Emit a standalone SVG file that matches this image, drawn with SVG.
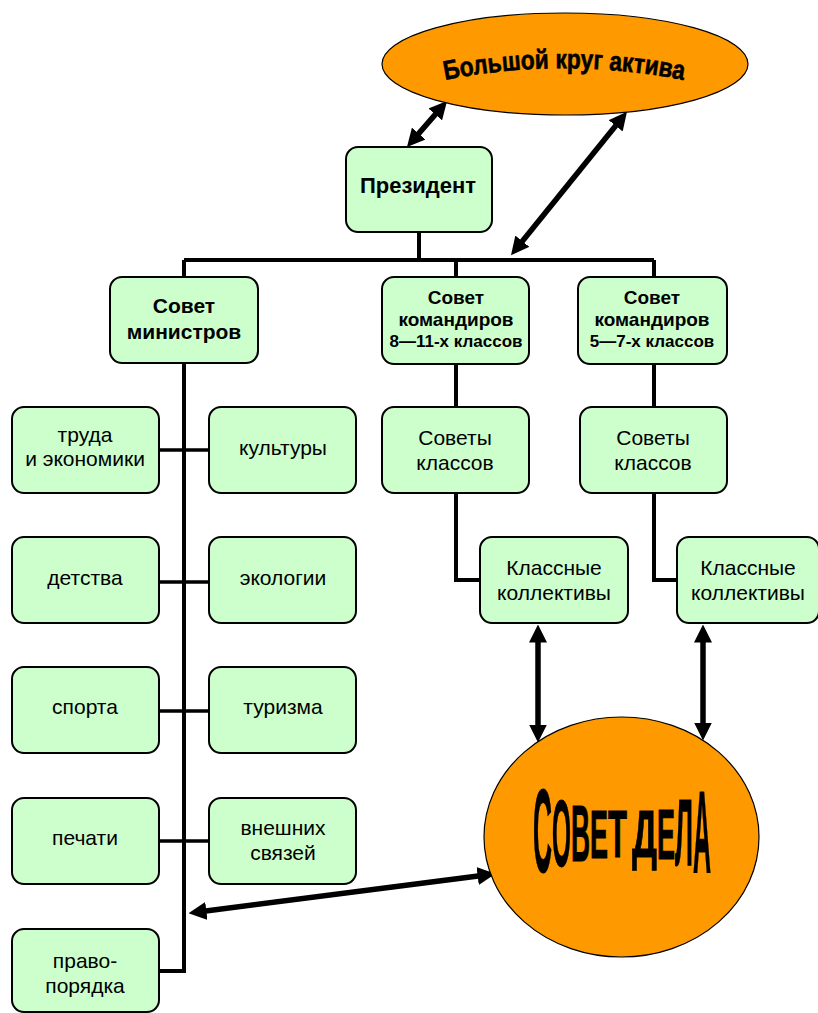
<svg xmlns="http://www.w3.org/2000/svg" width="818" height="1013" viewBox="0 0 818 1013">
<style>
.box{fill:#ccffcc;stroke:#000;stroke-width:2}
.oval{fill:#ff9900;stroke:#000;stroke-width:1.2}
.t{font-family:"Liberation Sans",Arial,sans-serif;font-size:21px;fill:#000;text-anchor:middle}
.b{font-weight:bold}
.p{font-size:22px}
.s{font-size:19px}
.xs{font-size:17px}
.ln{fill:none;stroke:#000;stroke-width:4}
.ln3{fill:none;stroke:#000;stroke-width:3.5}
.arr{fill:none;stroke:#000;stroke-width:5.5;marker-start:url(#ah);marker-end:url(#ah)}
.dl{font-family:"Liberation Sans",Arial,sans-serif;font-weight:bold;fill:#000;stroke:#000;stroke-width:1}
</style>
<defs>
<marker id="ah" markerUnits="userSpaceOnUse" markerWidth="18" markerHeight="18" refX="4" refY="8" orient="auto-start-reverse" viewBox="0 0 16 16">
<path d="M0,0 L16,8 L0,16 z" fill="#000"/>
</marker>
<path id="arcp" d="M445,80 Q566,56 688,81"/>
</defs>
<rect width="818" height="1013" fill="#fff"/>
<g id="connectors">
<path class="ln" d="M419,232 V260 M184,260 H654 M184,260 V278 M456,260 V278 M654,260 V278"/>
<path class="ln" d="M184,362 V971 H159"/>
<path class="ln3" d="M159,450 H209 M159,582 H209 M159,711 H209 M159,841 H209"/>
<path class="ln" d="M456,364 V407 M456,493 V580 H480 M654,364 V407 M654,493 V580 H677"/>
<line class="arr" x1="415.8" y1="136.9" x2="438.2" y2="111.1"/>
<line class="arr" x1="519.5" y1="244.7" x2="618.5" y2="122.3"/>
<line class="arr" x1="538" y1="638" x2="538" y2="729"/>
<line class="arr" x1="703" y1="638" x2="703" y2="727"/>
<line class="arr" x1="201.9" y1="911.5" x2="482.1" y2="875.5"/>
</g>
<g id="big-circle">
<ellipse class="oval" cx="565" cy="64" rx="183" ry="51"/>
<text font-family="'Liberation Sans',Arial,sans-serif" font-weight="bold" font-size="27" stroke="#000" stroke-width="0.6"><textPath href="#arcp" textLength="240" lengthAdjust="spacingAndGlyphs">Большой круг актива</textPath></text>
</g>
<g id="president">
<rect class="box" x="346" y="147" width="146" height="85" rx="12"/>
<text class="t b p" x="418" y="193">Президент</text>
</g>
<g id="sovet-ministrov">
<rect class="box" x="110" y="277" width="148" height="86" rx="12"/>
<text class="t b" x="184" y="313">Совет</text>
<text class="t b" x="184" y="339">министров</text>
</g>
<g id="sovet-8-11">
<rect class="box" x="382" y="277" width="147" height="87" rx="12"/>
<text class="t b s" x="456" y="304">Совет</text>
<text class="t b s" x="456" y="326">командиров</text>
<text class="t b xs" x="456" y="347">8—11-х классов</text>
</g>
<g id="sovet-5-7">
<rect class="box" x="578" y="277" width="149" height="87" rx="12"/>
<text class="t b s" x="652" y="304">Совет</text>
<text class="t b s" x="652" y="326">командиров</text>
<text class="t b xs" x="652" y="347">5—7-х классов</text>
</g>
<g id="sovety-klassov-1">
<rect class="box" x="382" y="407" width="147" height="86" rx="12"/>
<text class="t" x="455" y="445">Советы</text>
<text class="t" x="455" y="470">классов</text>
</g>
<g id="sovety-klassov-2">
<rect class="box" x="580" y="407" width="147" height="86" rx="12"/>
<text class="t" x="653" y="445">Советы</text>
<text class="t" x="653" y="470">классов</text>
</g>
<g id="kollektivy-1">
<rect class="box" x="480" y="537" width="148" height="86" rx="12"/>
<text class="t" x="554" y="575">Классные</text>
<text class="t" x="554" y="600">коллективы</text>
</g>
<g id="kollektivy-2">
<rect class="box" x="677" y="537" width="142" height="86" rx="12"/>
<text class="t" x="748" y="575">Классные</text>
<text class="t" x="748" y="600">коллективы</text>
</g>
<g id="truda">
<rect class="box" x="12" y="407" width="147" height="86" rx="12"/>
<text class="t" x="85" y="442">труда</text>
<text class="t" x="85" y="466">и экономики</text>
</g>
<g id="kultury">
<rect class="box" x="209" y="407" width="147" height="86" rx="12"/>
<text class="t" x="283" y="455">культуры</text>
</g>
<g id="detstva">
<rect class="box" x="12" y="537" width="147" height="86" rx="12"/>
<text class="t" x="85" y="585">детства</text>
</g>
<g id="ekologii">
<rect class="box" x="209" y="537" width="147" height="86" rx="12"/>
<text class="t" x="283" y="585">экологии</text>
</g>
<g id="sporta">
<rect class="box" x="12" y="667" width="147" height="86" rx="12"/>
<text class="t" x="85" y="714">спорта</text>
</g>
<g id="turizma">
<rect class="box" x="209" y="667" width="147" height="86" rx="12"/>
<text class="t" x="283" y="714">туризма</text>
</g>
<g id="pechati">
<rect class="box" x="12" y="798" width="147" height="86" rx="12"/>
<text class="t" x="85" y="845">печати</text>
</g>
<g id="vneshnih">
<rect class="box" x="209" y="798" width="147" height="86" rx="12"/>
<text class="t" x="283" y="835">внешних</text>
<text class="t" x="283" y="860">связей</text>
</g>
<g id="pravoporyadka">
<rect class="box" x="12" y="929" width="147" height="83" rx="12"/>
<text class="t" x="85" y="968">право-</text>
<text class="t" x="85" y="993">порядка</text>
</g>
<g id="sovet-dela">
<ellipse class="oval" cx="621.5" cy="837" rx="137.5" ry="120"/>
<text class="dl"><tspan x="533" y="872" font-size="119" textLength="19" lengthAdjust="spacingAndGlyphs">С</tspan><tspan x="552" y="866" font-size="95" textLength="19" lengthAdjust="spacingAndGlyphs">О</tspan><tspan x="571" y="861" font-size="80" textLength="19" lengthAdjust="spacingAndGlyphs">В</tspan><tspan x="590" y="858" font-size="68" textLength="18" lengthAdjust="spacingAndGlyphs">Е</tspan><tspan x="608" y="857" font-size="66" textLength="19" lengthAdjust="spacingAndGlyphs">Т</tspan><tspan x="627" y="857" font-size="20"> </tspan><tspan x="632" y="857" font-size="66" textLength="25" lengthAdjust="spacingAndGlyphs">Д</tspan><tspan x="657" y="859" font-size="70" textLength="18" lengthAdjust="spacingAndGlyphs">Е</tspan><tspan x="675" y="865" font-size="95" textLength="18" lengthAdjust="spacingAndGlyphs">Л</tspan><tspan x="693" y="873" font-size="117" textLength="18" lengthAdjust="spacingAndGlyphs">А</tspan></text>
</g>
</svg>
